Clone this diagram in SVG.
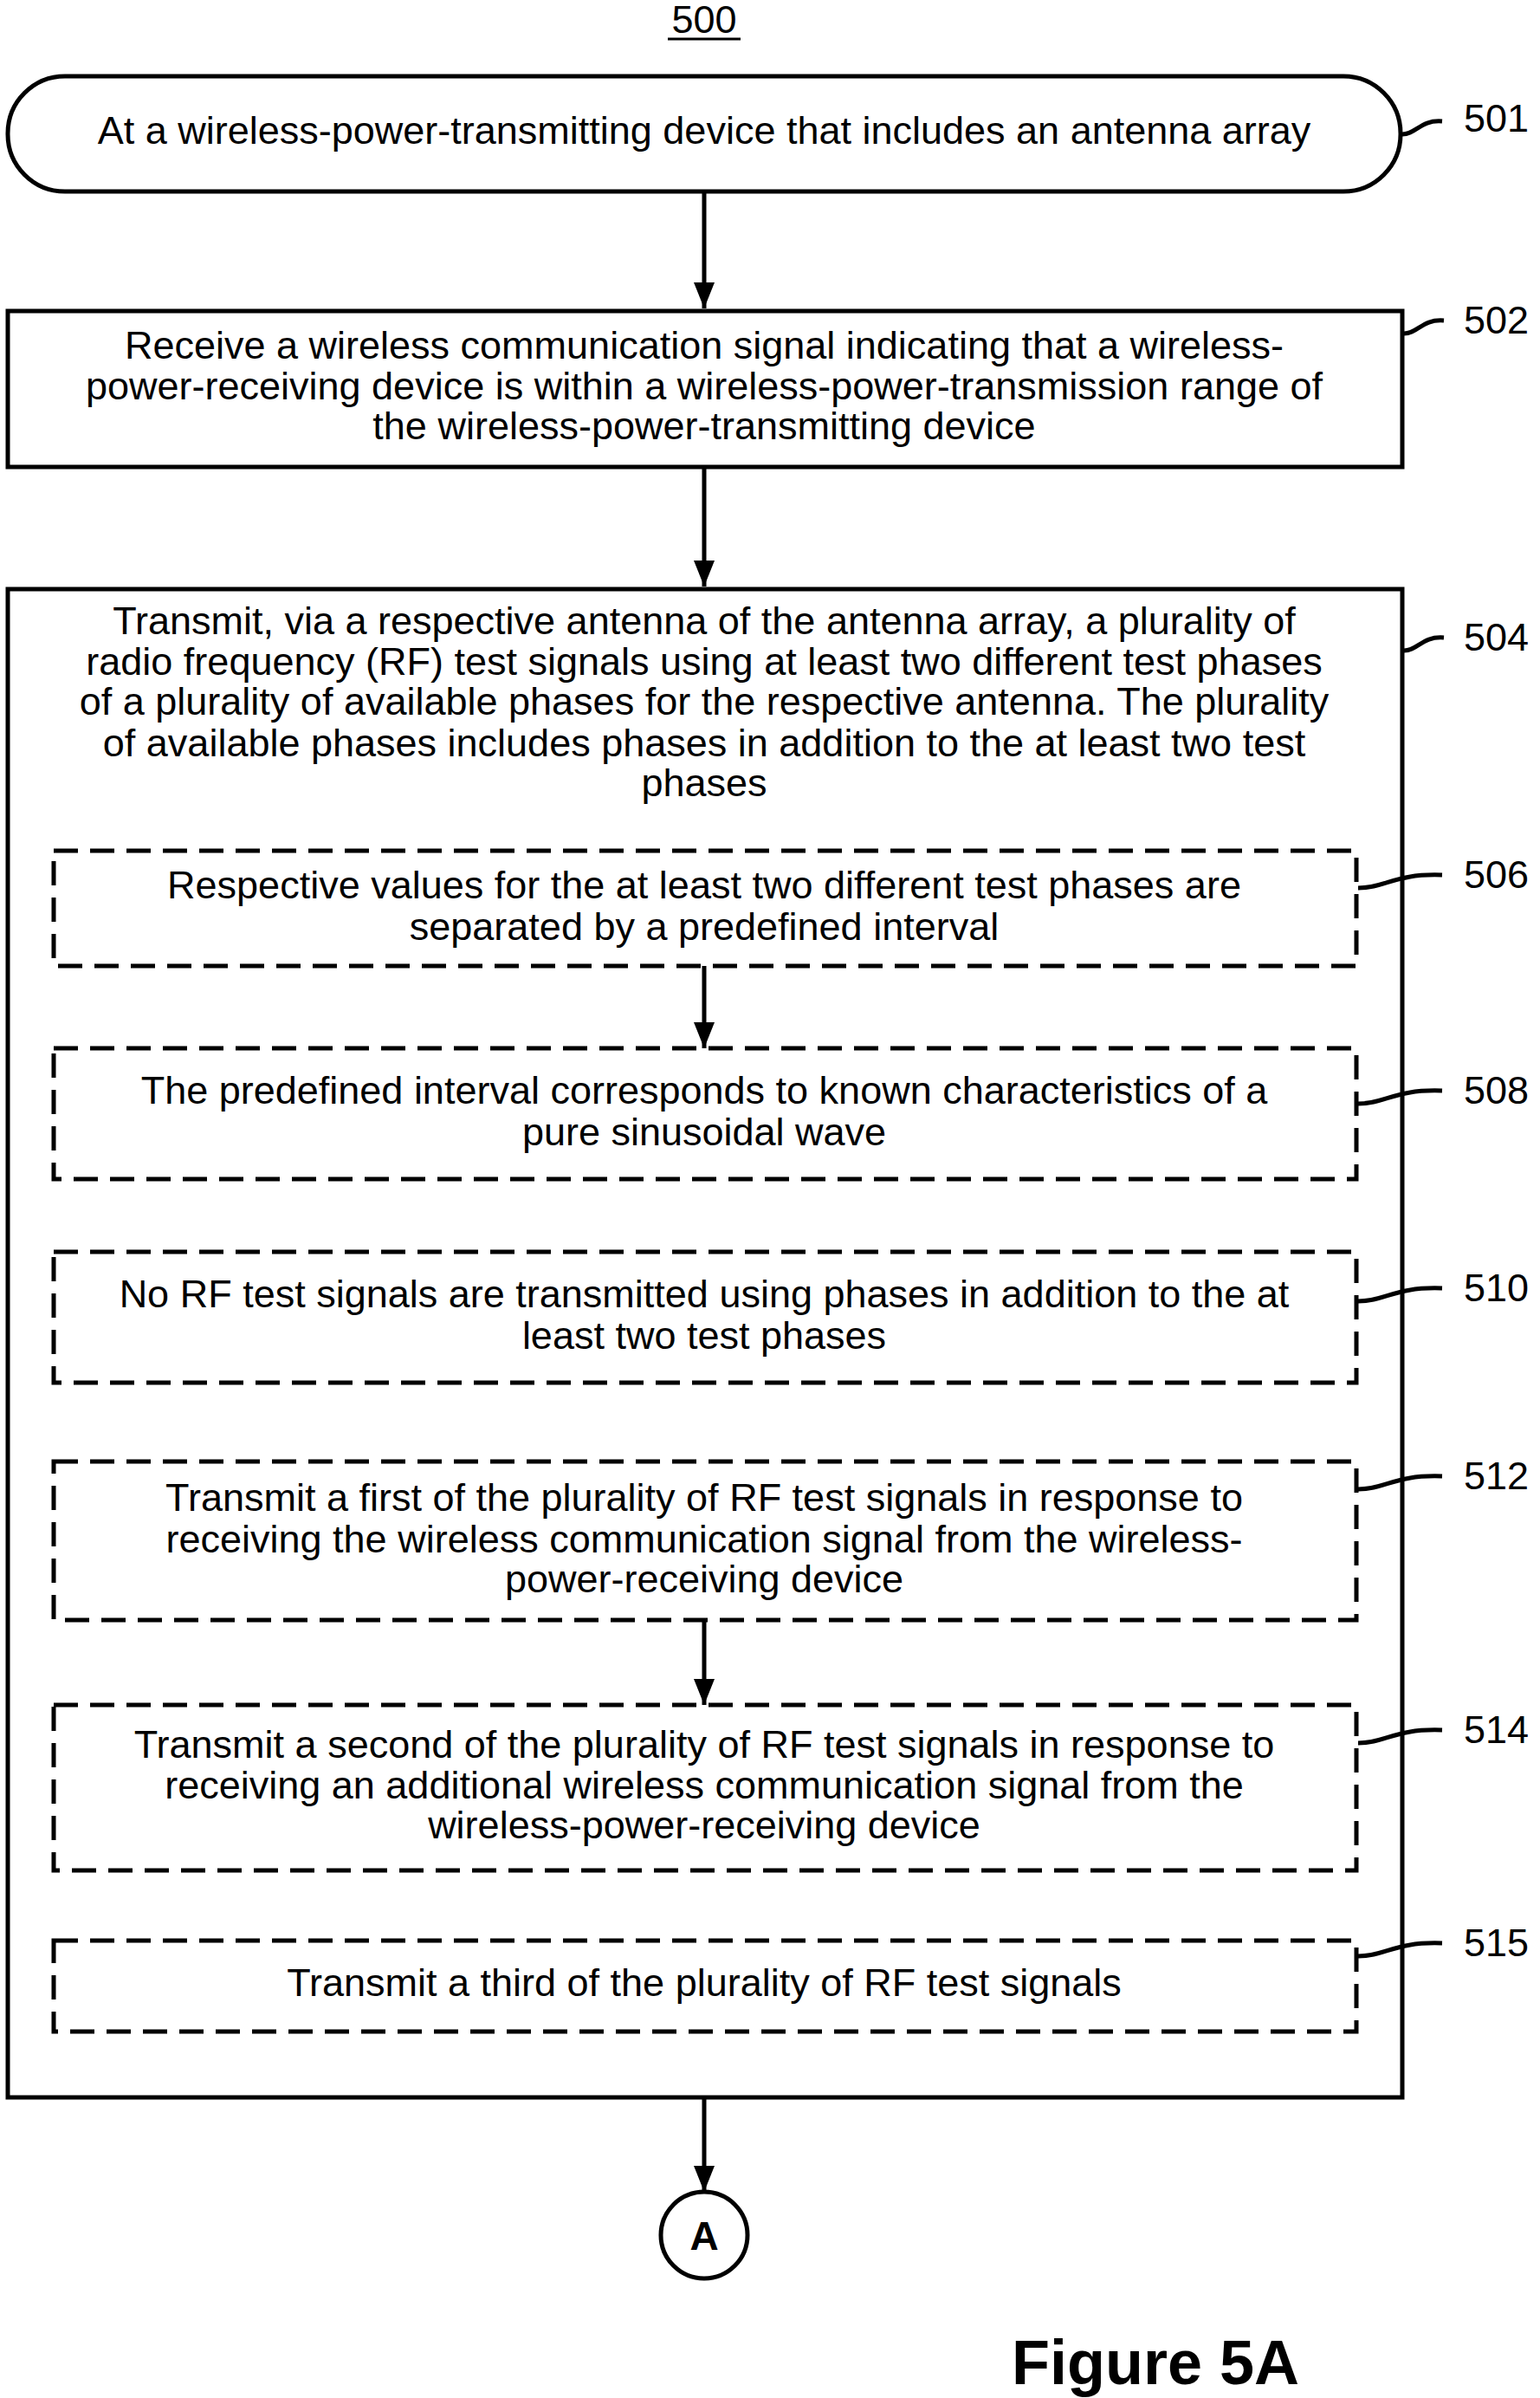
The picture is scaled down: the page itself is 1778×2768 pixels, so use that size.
<svg xmlns="http://www.w3.org/2000/svg" width="1778" height="2768" viewBox="0 0 1778 2768">
<style>
.b{fill:#fff;stroke:#000;stroke-width:5}
.d{fill:none;stroke:#000;stroke-width:5;stroke-dasharray:28,14}
text{font-family:"Liberation Sans",Arial,sans-serif;font-size:45px;fill:#000;text-anchor:middle}
.l{text-anchor:start;font-size:45px}
.c path,.s{fill:none;stroke:#000;stroke-width:5}
</style>
<defs><marker id="a" viewBox="0 0 30 24" refX="30" refY="12" markerWidth="30" markerHeight="24" orient="auto" markerUnits="userSpaceOnUse"><path d="M0,0L30,12L0,24z" fill="#000"/></marker></defs>
<rect width="1778" height="2768" fill="#fff"/>
<text x="813" y="38">500</text><line x1="771" y1="45" x2="855" y2="45" stroke="#000" stroke-width="3"/>
<g id="n501"><rect class="b" x="9" y="88" width="1608" height="133" rx="66"/><text x="813" y="166">At a wireless-power-transmitting device that includes an antenna array</text></g>
<g id="n502"><rect class="b" x="9" y="359" width="1610" height="180"/><text x="813" y="414">Receive a wireless communication signal indicating that a wireless-</text><text x="813" y="461">power-receiving device is within a wireless-power-transmission range of</text><text x="813" y="507">the wireless-power-transmitting device</text></g>
<g id="n504"><rect class="b" x="9" y="680" width="1610" height="1741"/><text x="813" y="732">Transmit, via a respective antenna of the antenna array, a plurality of</text><text x="813" y="779">radio frequency (RF) test signals using at least two different test phases</text><text x="813" y="825">of a plurality of available phases for the respective antenna.  The plurality</text><text x="813" y="873">of available phases includes phases in addition to the at least two test</text><text x="813" y="919">phases</text></g>
<g id="n506"><rect class="d" x="62" y="982" width="1504" height="133"/><text x="813" y="1037">Respective values for the at least two different test phases are</text><text x="813" y="1085">separated by a predefined interval</text></g>
<g id="n508"><rect class="d" x="62" y="1210" width="1504" height="151"/><text x="813" y="1274">The predefined interval corresponds to known characteristics of a</text><text x="813" y="1322">pure sinusoidal wave</text></g>
<g id="n510"><rect class="d" x="62" y="1445" width="1504" height="151"/><text x="813" y="1509">No RF test signals are transmitted using phases in addition to the at</text><text x="813" y="1557">least two test phases</text></g>
<g id="n512"><rect class="d" x="62" y="1687" width="1504" height="183"/><text x="813" y="1744">Transmit a first of the plurality of RF test signals in response to</text><text x="813" y="1792">receiving the wireless communication signal from the wireless-</text><text x="813" y="1838">power-receiving device</text></g>
<g id="n514"><rect class="d" x="62" y="1968" width="1504" height="191"/><text x="813" y="2029">Transmit a second of the plurality of RF test signals in response to</text><text x="813" y="2076">receiving an additional wireless communication signal from the</text><text x="813" y="2122">wireless-power-receiving device</text></g>
<g id="n515"><rect class="d" x="62" y="2240" width="1504" height="105"/><text x="813" y="2304">Transmit a third of the plurality of RF test signals</text></g>
<g id="nA"><circle cx="813" cy="2580" r="50" class="b"/><text x="813" y="2597" style="font-weight:bold;font-size:46px">A</text></g>
<g class="c">
<path d="M813,221V356" marker-end="url(#a)"/>
<path d="M813,539V677" marker-end="url(#a)"/>
<path d="M813,1115V1210" marker-end="url(#a)"/>
<path d="M813,1870V1968" marker-end="url(#a)"/>
<path d="M813,2421V2530" marker-end="url(#a)"/>
</g>
<g id="labels">
<path class="s" d="M1619,155 C1635,155 1640,138 1665,140"/><text class="l" x="1690" y="152">501</text>
<path class="s" d="M1621,385 C1637,385 1642,368 1667,370"/><text class="l" x="1690" y="385">502</text>
<path class="s" d="M1621,751 C1637,751 1642,734 1667,736"/><text class="l" x="1690" y="751">504</text>
<path class="s" d="M1568,1025 C1600,1025 1610,1008 1665,1010"/><text class="l" x="1690" y="1025">506</text>
<path class="s" d="M1568,1274 C1600,1274 1610,1257 1665,1259"/><text class="l" x="1690" y="1274">508</text>
<path class="s" d="M1568,1502 C1600,1502 1610,1485 1665,1487"/><text class="l" x="1690" y="1502">510</text>
<path class="s" d="M1568,1719 C1600,1719 1610,1702 1665,1704"/><text class="l" x="1690" y="1719">512</text>
<path class="s" d="M1568,2012 C1600,2012 1610,1995 1665,1997"/><text class="l" x="1690" y="2012">514</text>
<path class="s" d="M1568,2258 C1600,2258 1610,2241 1665,2243"/><text class="l" x="1690" y="2258">515</text>
</g>
<text x="1334" y="2752" style="font-weight:bold;font-size:72px">Figure 5A</text>
</svg>
